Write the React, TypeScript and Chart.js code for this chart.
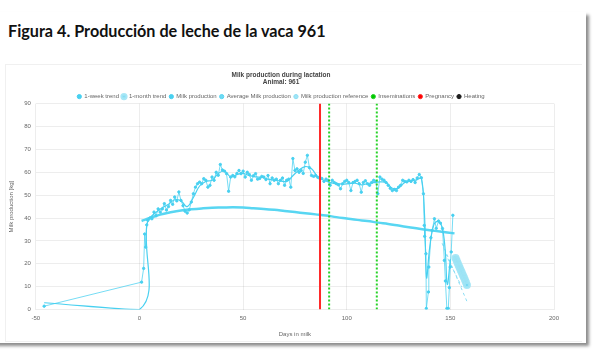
import React, { useEffect, useRef } from "react";
import { Chart, registerables } from "chart.js";

Chart.register(...registerables);

const milkDays = [
  -46, 1, 2, 2.5, 3, 3.5,
  4, 5, 6, 7, 8, 9, 10, 11, 12, 13, 14, 15, 16, 17, 18, 19, 20, 21, 22, 23, 24, 25, 26, 27, 28, 29, 30,
  31, 32, 33, 34, 35, 36, 37, 38, 39, 40, 41, 42, 43, 44, 45, 46, 47, 48, 49, 50, 51, 52, 53, 54, 55, 56, 57,
  58, 59, 60, 61, 62, 63, 64, 65, 66, 67, 68, 69, 70, 71, 72, 73, 74, 75, 76, 77, 78, 79, 80, 81, 82, 83, 84,
  85, 86, 87, 88, 89, 90, 91, 92, 93, 94, 95, 96, 97, 98, 99, 100, 101, 102, 103, 104, 105, 106, 107, 108,
  109, 110, 111, 112, 113, 114, 115, 116, 117, 118, 119, 120, 121, 122, 123, 124, 125, 126, 127, 128, 129,
  130, 131, 132, 133, 134, 135, 136,
  137, 137.4, 137.6, 138.2, 138.4, 139.4, 139.6, 140.6, 141.2, 142.3, 143.2, 144.3, 145.2, 146.2, 147.1,
  147.6, 148.3, 149, 149.5, 149.9, 150.4, 151.2,
];
const milkValues = [
  1.5, 12, 18, 33, 27.3, 37,
  39, 40, 39.7, 42.6, 41, 44, 42.6, 44, 46.3, 43.5, 45, 47.7, 46, 49.2, 47.5, 51.4, 47.7, 45.4, 43, 42.2, 43.6,
  47, 50.6, 53.5, 55, 55.7, 55,
  57.2, 56.5, 53.5, 54.3, 57.9, 56.5, 60, 58.7, 63.4, 61, 60.5, 59.4, 51.7, 57.9, 58.6, 58, 59.5, 60.8, 59.4,
  60.5, 57.9, 60, 59, 56.5, 58.5, 59.4, 57,
  57.3, 58.2, 57.9, 56.8, 58.6, 55, 57.5, 56.5, 57, 55, 56.5, 57.5, 54.3, 56.5, 57, 53.5, 66, 60.8, 61.5, 60,
  60.8, 59.5, 64.4, 67.4, 62, 58.6, 58.2,
  58.6, 57.8, 57.3, 57.3, 56, 57, 56.5, 54.3, 56.5, 55.5, 55, 54.5, 52.8, 55, 56, 56.5, 55.5, 52, 55.5, 56,
  56.5, 55, 51.3, 55.5,
  56.3, 55, 54.3, 55.5, 56.5, 56, 50.6, 57.9, 57, 56.5, 55.5, 54.3, 53, 52, 52.5, 52, 53.5, 54.3, 56.5, 56,
  55.8, 56.5, 56, 56.8, 55.5, 57.5, 59, 57.6,
  50.6, 36.8, 32, 24.4, 0.5, 7.7, 18.6, 31.4, 34.6, 39.7, 35.5, 38.7, 37.8, 35.4, 21.5,
  12.5, 0.5, 0.5, 9.6, 18.6, 25.2, 41.2,
];

const weekDays = [
  -46, 0, 3.5, 5, 8, 11, 14, 17, 20, 23, 26, 29, 32, 35, 38, 41, 44, 47, 50, 53, 56, 59, 62, 65, 68, 71, 74,
  77, 80, 83, 86, 89, 92, 95, 98, 101, 104, 107, 110, 113, 116, 119, 122, 125, 128, 131, 134, 136,
  137.5, 138.5, 140, 142, 144, 146, 147.5, 148.5, 150,
];
const weekValues = [
  3, 0, 37, 40, 42.5, 44.5, 46, 48, 47.5, 45, 49, 54, 56, 56.5, 59.5, 60.5, 58, 59, 59.5, 58.5, 58, 57.8, 57,
  56.5, 56.2, 56, 58.5, 61, 62.5, 61.5, 58, 56.5, 55.5, 55, 54.8, 55, 55.2, 54.5, 55, 55.5, 55.8, 55.5, 53,
  53.2, 55.5, 56.2, 56.8, 57.5,
  42, 14, 27, 37, 38.5, 36, 26, 11, 22,
];

const forecastDays = [147.5, 155.5];
const forecastValues = [24.6, 9.9];

const monthDays = [152.5, 153, 153.5, 154, 154.5, 155, 155.5, 156, 156.5, 157, 157.5, 158];
const monthValues = [22.5, 21.5, 20.4, 19.3, 18.3, 17.2, 16.2, 15.1, 14.1, 13, 12, 10.8];

const avgDays = [1, 5, 10, 15, 20, 25, 30, 35, 40, 45, 50, 55, 60, 65, 70, 75, 80, 85, 90, 95, 100, 105, 110,
  115, 120, 125, 130, 135, 140, 145, 152];
const avgValues = [38.7, 40, 41.5, 42.5, 43.3, 43.8, 44.2, 44.5, 44.6, 44.7, 44.6, 44.3, 44, 43.6, 43.1, 42.6,
  42.1, 41.6, 41.1, 40.4, 39.8, 39.2, 38.7, 38, 37.4, 36.7, 36, 35.3, 34.7, 34.1, 33.3];

const refDays = [146, 158.5];
const refValues = [29, 2.5];

const inseminationDays = [91.5, 114.5];
const pregnancyDays = [87.1];

const xTicks = [-50, 0, 50, 100, 150, 200];
const yMax = 90;

const pts = (xs: number[], ys: number[]) => xs.map((x, i) => ({ x, y: ys[i] }));
const vlines = (xs: number[]) => {
  const out: any[] = [];
  xs.forEach((x, i) => {
    if (i > 0) out.push({ x: (x + xs[i - 1]) / 2, y: null });
    out.push({ x, y: 0 }, { x, y: yMax });
  });
  return out;
};

const CYAN = "rgb(72, 208, 240)";
const CYAN_SOFT = "rgba(72, 208, 240, 0.75)";
const LIGHT = "rgb(140, 222, 244)";
const FONT = "Liberation Sans, Arial";

const legendTighten = {
  id: "legendTighten",
  beforeLayout(chart: any) {
    const lg = chart.legend;
    if (lg && !lg.__patched) {
      const fit = lg.fit;
      lg.fit = function () {
        fit.call(this);
        this.height -= 6;
      };
      lg.__patched = true;
    }
  },
};

export default function App() {
  const ref = useRef<HTMLCanvasElement | null>(null);
  useEffect(() => {
    document.body.style.margin = "0";
    const ctx = ref.current!;
    const chart = new Chart(ctx, {
      type: "line",
      plugins: [legendTighten],
      data: {
        datasets: [
          {
            label: "Pregnancy",
            data: vlines(pregnancyDays),
            borderColor: "rgb(255, 40, 40)",
            backgroundColor: "rgb(255, 0, 0)",
            borderWidth: 2,
            pointRadius: 0,
            pointBorderWidth: 1,
            spanGaps: false,
          },
          {
            label: "Inseminations",
            data: vlines(inseminationDays),
            borderColor: "rgb(40, 210, 40)",
            backgroundColor: "rgb(0, 200, 0)",
            borderWidth: 2,
            borderDash: [2, 2],
            pointRadius: 0,
            pointBorderWidth: 1,
            spanGaps: false,
          },
          {
            label: "1-week trend",
            data: pts(weekDays, weekValues),
            borderColor: CYAN,
            backgroundColor: CYAN,
            borderWidth: 1.2,
            pointRadius: 0,
            pointBorderWidth: 1,
            tension: 0.4,
          },
          {
            label: "Milk production",
            data: pts(milkDays, milkValues),
            borderColor: CYAN_SOFT,
            backgroundColor: CYAN,
            pointBackgroundColor: CYAN,
            pointBorderColor: CYAN,
            borderWidth: 1,
            pointRadius: 1.2,
            pointBorderWidth: 1,
            tension: 0,
          },
          {
            label: "",
            data: pts(forecastDays, forecastValues),
            borderColor: LIGHT,
            borderWidth: 1,
            borderDash: [3, 3],
            pointRadius: 0,
          },
          {
            label: "1-month trend",
            data: pts(monthDays, monthValues),
            borderColor: "rgba(160, 228, 245, 0.9)",
            backgroundColor: "rgb(110, 215, 242)",
            borderWidth: 4,
            pointRadius: 2.5,
            pointBorderWidth: 3,
          },
          {
            label: "Average Milk production",
            data: pts(avgDays, avgValues),
            borderColor: "rgb(88, 214, 242)",
            backgroundColor: "rgb(110, 218, 244)",
            borderWidth: 2.5,
            pointRadius: 0,
            pointBorderWidth: 1,
            tension: 0.4,
          },
          {
            label: "Milk production reference",
            data: pts(refDays, refValues),
            borderColor: LIGHT,
            backgroundColor: "rgb(160, 228, 245)",
            borderWidth: 1,
            borderDash: [3, 3],
            pointRadius: 0,
            pointBorderWidth: 1,
          },
          {
            label: "Heating",
            data: [],
            borderColor: "rgb(30, 30, 30)",
            backgroundColor: "rgb(30, 30, 30)",
            pointRadius: 0,
            pointBorderWidth: 1,
          },
        ],
      },
      options: {
        animation: false,
        responsive: false,
        maintainAspectRatio: false,
        layout: { padding: { left: 0, right: 18, top: 1, bottom: 0 } },
        plugins: {
          title: {
            display: true,
            text: ["Milk production during lactation", "Animal: 961"],
            color: "#444",
            font: { family: FONT, size: 6.5, weight: "bold" },
            padding: { top: 4, bottom: 4 },
            lineHeight: 1.15,
          },
          legend: {
            display: true,
            labels: {
              usePointStyle: true,
              boxWidth: 4,
              boxHeight: 3,
              padding: 3,
              color: "#666",
              font: { family: FONT, size: 6 },
              filter: (item: any) => item.text !== "",
              sort: (a: any, b: any) => {
                const order = ["1-week trend", "1-month trend", "Milk production", "Average Milk production",
                  "Milk production reference", "Inseminations", "Pregnancy", "Heating"];
                return order.indexOf(a.text) - order.indexOf(b.text);
              },
            },
          },
          tooltip: { enabled: false },
        },
        scales: {
          x: {
            type: "linear",
            min: -50,
            max: 200,
            afterBuildTicks: (axis: any) => {
              axis.ticks = xTicks.map((v) => ({ value: v }));
            },
            grid: { color: "rgba(0,0,0,0.07)", drawTicks: false },
            border: { display: false },
            ticks: { color: "#666", font: { family: FONT, size: 6 }, padding: 5 },
            title: {
              display: true,
              text: "Days in milk",
              color: "#666",
              font: { family: FONT, size: 6 },
              padding: { top: 4, bottom: 0 },
            },
          },
          y: {
            min: 0,
            max: yMax,
            ticks: { stepSize: 10, color: "#666", font: { family: FONT, size: 6 }, padding: 5 },
            grid: { color: "rgba(0,0,0,0.07)", drawTicks: false },
            border: { display: false },
            title: {
              display: true,
              text: "Milk production [kg]",
              color: "#666",
              font: { family: FONT, size: 6 },
              padding: { top: 0, bottom: 4 },
            },
          },
        },
      },
    } as any);
    return () => chart.destroy();
  }, []);

  return (
    <div style={{ position: "relative", width: 594, height: 352, background: "#fff", overflow: "hidden" }}>
      <div
        style={{
          position: "absolute",
          left: -10,
          top: 12,
          width: 596,
          height: 331,
          background: "#fff",
          boxShadow: "3px 3px 3px rgba(0,0,0,0.45)",
        }}
      />
      <div
        style={{
          position: "absolute",
          left: 8,
          top: 21,
          fontFamily: "Lato, 'Open Sans', sans-serif",
          fontWeight: 700,
          fontSize: 16.2,
          color: "#111",
          whiteSpace: "nowrap",
        }}
      >
        Figura 4. Producción de leche de la vaca 961
      </div>
      <div
        style={{
          position: "absolute",
          left: 5,
          top: 64,
          width: 576,
          height: 276,
          border: "1px solid #f0f0f0",
          borderRight: "none",
          background: "#fff",
        }}
      />
      <canvas ref={ref} width={564} height={272} style={{ position: "absolute", left: 8, top: 66 }} />
    </div>
  );
}
